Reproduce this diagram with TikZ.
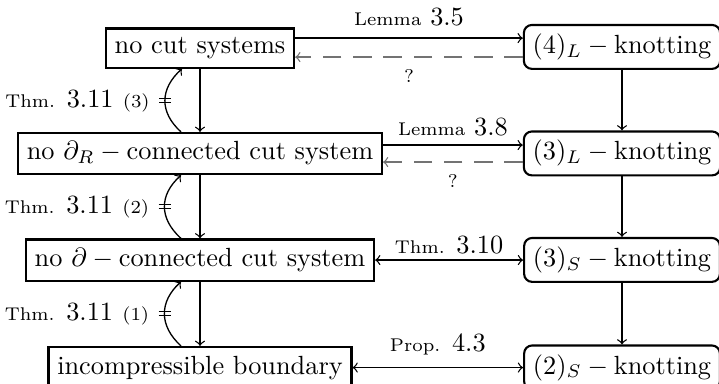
\documentclass[tikz,border=0pt]{standalone}
\usetikzlibrary{calc}
\newcommand\reftag[1]{{\scriptsize #1}}
\begin{document}
\begin{tikzpicture}[x=0.3802pt, y=-0.3802pt, >=to,
  leftbox/.style={draw, line width=0.8pt, anchor=base},
  rightbox/.style={draw, line width=0.8pt, rounded corners=3pt, anchor=base},
  arr/.style={->, line width=0.5pt},
  twoway/.style={<->, line width=0.5pt},
  guess/.style={->, line width=0.5pt, draw=black!55, dash pattern=on 7pt off 4.5pt},
  strike/.style={line width=0.5pt}]
\useasboundingbox (0,0) rectangle (719,384);

% left column
\node[leftbox] (nocut)  at (200,53.5)  {no cut systems};
\node[leftbox] (noR)    at (200,160)   {no $\partial_R-{}$connected cut system};
\node[leftbox] (nobd)   at (200,266.5) {no $\partial-{}$connected cut system};
\node[leftbox] (incomp) at (200,374)   {incompressible boundary};

% right column
\node[rightbox] (k4L) at (622,53.5)  {$(4)_L-{}$knotting};
\node[rightbox] (k3L) at (622,160)   {$(3)_L-{}$knotting};
\node[rightbox] (k3S) at (622,266.5) {$(3)_S-{}$knotting};
\node[rightbox] (k2S) at (622,374)   {$(2)_S-{}$knotting};

% vertical implications
\draw[arr] (nocut) -- (noR);
\draw[arr] (noR) -- (nobd);
\draw[arr] (nobd) -- (incomp);
\draw[arr] (k4L) -- (k3L);
\draw[arr] (k3L) -- (k3S);
\draw[arr] (k3S) -- (k2S);

% horizontal implications
\draw[arr] ($(nocut.east)+(0,-10)$) --
  node[above=1pt] {\reftag{Lemma} $3.5$} ($(nocut.east -| k4L.west)+(0,-10)$);
\draw[guess] ($(nocut.east -| k4L.west)+(0,9)$) --
  node[below=1pt] {\reftag{?}} ($(nocut.east)+(0,9)$);

\draw[arr] ($(noR.east)+(0,-8.5)$) --
  node[above=0pt] {\reftag{Lemma} $3.8$} ($(noR.east -| k3L.west)+(0,-8.5)$);
\draw[guess] ($(noR.east -| k3L.west)+(0,8.5)$) --
  node[below=1pt] {\reftag{?}} ($(noR.east)+(0,8.5)$);

\draw[twoway] (nobd.east) --
  node[above=-1pt] {\reftag{Thm.} $3.10$} (nobd.east -| k3S.west);
\draw[twoway] (incomp.east) --
  node[above=1pt] {\reftag{Prop.} $4.3$} (incomp.east -| k2S.west);

% non-implications on the left
\draw[arr] ($(noR.north)+(-19,0)$) .. controls +(-22,-20) and +(-22,20) ..
  ($(nocut.south)+(-18,0)$) coordinate[pos=0.5] (m3);
\draw[arr] ($(nobd.north)+(-19,0)$) .. controls +(-22,-20) and +(-22,20) ..
  ($(noR.south)+(-19,0)$) coordinate[pos=0.5] (m2);
\draw[arr] ($(incomp.north)+(-19,0)$) .. controls +(-22,-20) and +(-22,20) ..
  ($(nobd.south)+(-19,0)$) coordinate[pos=0.5] (m1);

\foreach \m in {m1,m2,m3}
  \draw[strike] ($(\m)+(-6,-2)$) -- ($(\m)+(6,-2)$)
                ($(\m)+(-6,2)$) -- ($(\m)+(6,2)$);

\node[anchor=base east] (t3) at ($(m3)+(-6,7)$) {\reftag{Thm.} $3.11$\hskip3.5pt\reftag{(3)}};
\node[anchor=base east] (t2) at ($(m2)+(-6,7)$) {\reftag{Thm.} $3.11$\hskip3.5pt\reftag{(2)}};
\node[anchor=base east] (t1) at ($(m1)+(-6,7)$) {\reftag{Thm.} $3.11$\hskip3.5pt\reftag{(1)}};
\end{tikzpicture}
\end{document}
